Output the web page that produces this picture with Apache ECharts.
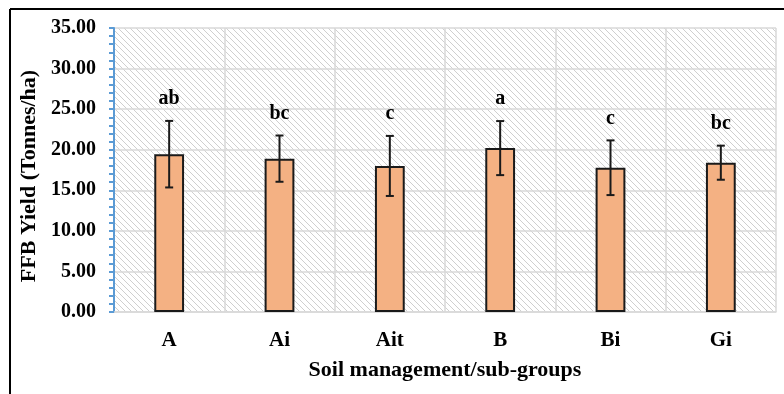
<!DOCTYPE html>
<html>
<head>
<meta charset="utf-8">
<script src="https://cdn.jsdelivr.net/npm/echarts@6/dist/echarts.min.js"></script>
<style>
html,body{margin:0;padding:0;background:#fff;}
#chart{width:784px;height:394px;}
</style>
</head>
<body>
<div id="chart"></div>
<script>
var categories = ['A', 'Ai', 'Ait', 'B', 'Bi', 'Gi'];
var means = [19.45, 18.9, 18.0, 20.2, 17.78, 18.4];
var errors = [4.1, 2.85, 3.7, 3.33, 3.37, 2.1];
var letters = ['ab', 'bc', 'c', 'a', 'c', 'bc'];
var yTicks = [0, 35, 5];

var FONT = '"Liberation Serif", "Times New Roman", serif';

// hatch pattern for plot background
var pc = document.createElement('canvas');
pc.width = 6; pc.height = 6;
var pctx = pc.getContext('2d');
pctx.fillStyle = '#ffffff';
pctx.fillRect(0, 0, 6, 6);
pctx.strokeStyle = '#cfcfcf';
pctx.lineWidth = 1;
pctx.beginPath();
pctx.moveTo(-1, -1); pctx.lineTo(7, 7);
pctx.moveTo(-1, 5); pctx.lineTo(1, 7);
pctx.moveTo(5, -1); pctx.lineTo(7, 1);
pctx.stroke();

var errData = categories.map(function (c, i) {
  return [i, means[i] - errors[i], means[i] + errors[i], letters[i]];
});

var chart = echarts.init(document.getElementById('chart'), null, {renderer: 'canvas'});
chart.setOption({
  animation: false,
  backgroundColor: '#ffffff',
  graphic: [
    {type: 'line', shape: {x1: 10, y1: 9, x2: 784, y2: 9}, style: {stroke: '#000', lineWidth: 2}},
    {type: 'line', shape: {x1: 10, y1: 9, x2: 10, y2: 394}, style: {stroke: '#000', lineWidth: 2}}
  ],
  grid: {
    left: 114, right: 8, top: 28, bottom: 82,
    show: true,
    borderWidth: 0,
    backgroundColor: {image: pc, repeat: 'repeat'}
  },
  xAxis: {
    type: 'category',
    data: categories,
    axisLine: {show: true, lineStyle: {color: '#d9d9d9', width: 1.5}},
    axisTick: {show: false},
    splitLine: {show: true, lineStyle: {color: '#d9d9d9', width: 1.5}},
    axisLabel: {
      fontFamily: FONT, fontWeight: 'bold', fontSize: 21, color: '#000', margin: 18
    },
    name: 'Soil management/sub-groups',
    nameLocation: 'middle',
    nameGap: 47,
    nameTextStyle: {fontFamily: FONT, fontWeight: 'bold', fontSize: 22, color: '#000'}
  },
  yAxis: {
    type: 'value',
    min: yTicks[0], max: yTicks[1], interval: yTicks[2],
    axisLine: {show: true, lineStyle: {color: '#5b9bd5', width: 2}},
    axisTick: {show: true, length: 5, lineStyle: {color: '#5b9bd5', width: 2}},
    minorTick: {show: true, splitNumber: 5, length: 5, lineStyle: {color: '#5b9bd5', width: 2}},
    splitLine: {show: true, lineStyle: {color: '#d9d9d9', width: 1.5}},
    axisLabel: {
      fontFamily: FONT, fontWeight: 'bold', fontSize: 20, color: '#000', margin: 18,
      formatter: function (v) { return v.toFixed(2); }
    },
    name: 'FFB Yield (Tonnes/ha)',
    nameLocation: 'middle',
    nameGap: 68,
    nameTextStyle: {fontFamily: FONT, fontWeight: 'bold', fontSize: 22, color: '#000', padding: [0, 12, 0, 0]}
  },
  series: [
    {
      type: 'bar',
      data: means,
      barWidth: '27%',
      itemStyle: {color: '#f4b183', borderColor: '#1a1a1a', borderWidth: 2}
    },
    {
      type: 'custom',
      data: errData,
      z: 10,
      renderItem: function (params, api) {
        var idx = api.value(0);
        var lo = api.coord([idx, api.value(1)]);
        var hi = api.coord([idx, api.value(2)]);
        var hw = 4;
        var st = {stroke: '#1a1a1a', lineWidth: 2};
        return {
          type: 'group',
          children: [
            {type: 'line', shape: {x1: hi[0], y1: hi[1], x2: lo[0], y2: lo[1]}, style: st},
            {type: 'line', shape: {x1: hi[0] - hw, y1: hi[1], x2: hi[0] + hw, y2: hi[1]}, style: st},
            {type: 'line', shape: {x1: lo[0] - hw, y1: lo[1], x2: lo[0] + hw, y2: lo[1]}, style: st},
            {type: 'text', style: {
              x: hi[0], y: hi[1] - 22, text: api.value(3),
              textAlign: 'center', textVerticalAlign: 'middle',
              font: 'bold 20px ' + FONT, fill: '#000'
            }}
          ]
        };
      }
    }
  ]
});
</script>
</body>
</html>
